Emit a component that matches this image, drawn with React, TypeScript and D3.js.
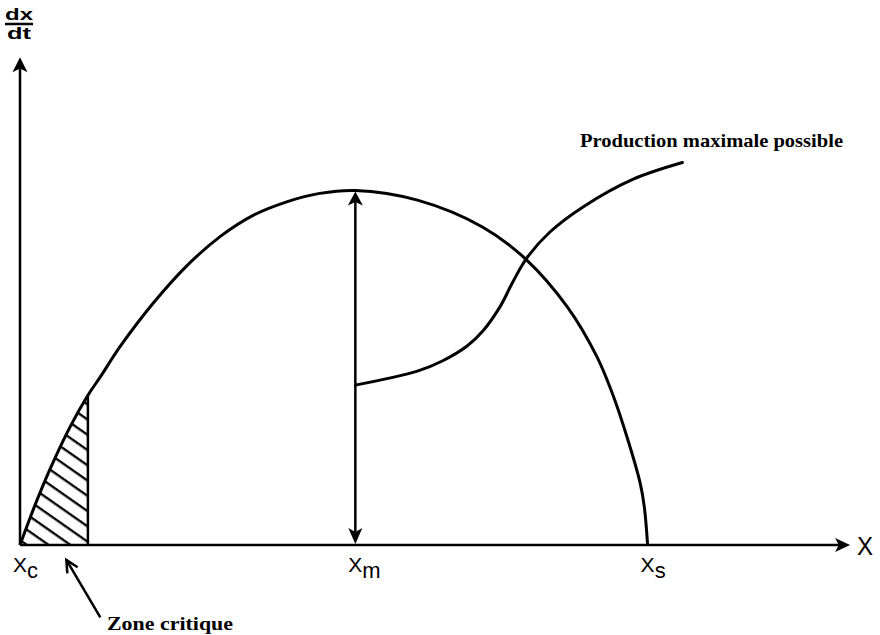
import React from "react";
import * as d3 from "d3";

// Natural growth curve dx/dt as a function of stock X
const growthX = [0, 1.8, 3.6, 6.0, 8.2, 9.7, 12.1, 16.1, 20.2, 24.2, 28.1, 32.3, 36.2, 40.5, 48.0, 55.9, 61.2, 66.1, 69.7, 71.6, 73.3, 74.9, 75.4, 75.8];
const growthY = [0, 8.2, 15.6, 24.3, 31.0, 34.8, 41.1, 50.1, 57.9, 63.9, 68.2, 71.1, 72.8, 73.4, 71.4, 65.8, 59.0, 49.3, 38.9, 31.1, 22.4, 12.8, 7.9, 0];

// "Production maximale possible" curve
const productionX = [40.5, 48.0, 51.0, 54.0, 55.9, 58.0, 59.5, 61.2, 64.0, 68.0, 74.0, 80.0];
const productionY = [33.1, 36.0, 38.1, 41.2, 44.3, 49.4, 54.4, 59.4, 64.8, 70.0, 75.7, 79.2];

// Key stock levels
const stockNames = ["c", "m", "s"];
const stockValues = [0, 40.5, 75.8];
const criticalLimit = 8.2;

const axisTitleY = ["dx", "dt"];
const axisTitleX = "X";
const productionLabel = "Production maximale possible";
const criticalLabel = "Zone critique";

const W = 880;
const H = 635;

function arrowHead(tipX: number, tipY: number, fromX: number, fromY: number, len: number, hw: number, notch = 0.75) {
  const dx = tipX - fromX;
  const dy = tipY - fromY;
  const d = Math.hypot(dx, dy);
  const ux = dx / d, uy = dy / d;
  const nx = -uy, ny = ux;
  const bx = tipX - ux * len, by = tipY - uy * len;
  const mx = tipX - ux * len * notch, my = tipY - uy * len * notch;
  return `M${tipX},${tipY}L${bx + nx * hw},${by + ny * hw}L${mx},${my}L${bx - nx * hw},${by - ny * hw}Z`;
}

export default function App() {
  const x = d3.scaleLinear().domain([0, 100]).range([20, 848]);
  const y = d3.scaleLinear().domain([0, 100]).range([545, 62]);

  const growth = growthX.map((v, i) => [v, growthY[i]] as [number, number]);
  const production = productionX.map((v, i) => [v, productionY[i]] as [number, number]);

  const curve = d3.curveCatmullRom.alpha(0.5);
  const line = d3.line<[number, number]>().x(d => x(d[0])).y(d => y(d[1])).curve(curve);
  const area = d3.area<[number, number]>().x(d => x(d[0])).y0(y(0)).y1(d => y(d[1])).curve(curve);

  const x0 = x(0), y0 = y(0);
  const yTop = y(101);
  const xEnd = x(100.25);
  const xm = x(stockValues[1]);
  const pk = growthX.indexOf(stockValues[1]);
  const peakPx = y(growthY[pk]) + 1;

  const serif = "'Liberation Serif', 'DejaVu Serif', serif";
  const sans = "'Liberation Sans', Arial, Helvetica, sans-serif";

  // zone critique arrow
  const zTipX = x(5.6), zTipY = y(-3.1);
  const zTailX = x(9.7), zTailY = y(-15);

  const areaD = area(growth) || "";

  return (
    <svg width={W} height={H} style={{ position: "absolute", left: 0, top: 0, background: "#fff" }}>
      <defs>
        <pattern id="hatch" patternUnits="userSpaceOnUse" width={12.5} height={12.5} patternTransform="rotate(35)">
          <line x1={0} y1={6} x2={12.5} y2={6} stroke="#000" strokeWidth={2.3} />
        </pattern>
        <clipPath id="underCurve">
          <path d={areaD} />
        </clipPath>
      </defs>
      <rect x={0} y={0} width={W} height={H} fill="#fff" />

      {/* hatched critical zone */}
      <g clipPath="url(#underCurve)">
        <rect x={x0} y={y(100)} width={x(criticalLimit) - x0} height={y0 - y(100)} fill="url(#hatch)" />
        <line x1={x(criticalLimit)} y1={y(100)} x2={x(criticalLimit)} y2={y0} stroke="#000" strokeWidth={2.5} />
      </g>

      {/* axes */}
      <line x1={x0} y1={y0} x2={x0} y2={yTop + 8} stroke="#000" strokeWidth={2.5} />
      <path d={arrowHead(x0, yTop, x0, y0, 15, 7.5)} fill="#000" />
      <line x1={x0} y1={y0} x2={xEnd - 8} y2={y0} stroke="#000" strokeWidth={2.5} />
      <path d={arrowHead(xEnd, y0, x0, y0, 15, 7)} fill="#000" />

      {/* growth curve */}
      <path d={line(growth) || ""} fill="none" stroke="#000" strokeWidth={3} strokeLinejoin="round" />

      {/* double arrow at Xm */}
      <line x1={xm} y1={peakPx + 8} x2={xm} y2={y0 - 9} stroke="#000" strokeWidth={2.5} />
      <path d={arrowHead(xm, peakPx, xm, y0, 14, 7.5)} fill="#000" />
      <path d={arrowHead(xm, y0 - 1, xm, peakPx, 16, 7)} fill="#000" />

      {/* production curve */}
      <path d={line(production) || ""} fill="none" stroke="#000" strokeWidth={3} strokeLinecap="round" />

      {/* axis titles */}
      <text x={19} y={20} fontFamily={sans} fontWeight="bold" fontSize={17} textAnchor="middle" textLength={28} lengthAdjust="spacingAndGlyphs">{axisTitleY[0]}</text>
      <line x1={5} y1={24} x2={33} y2={24} stroke="#000" strokeWidth={2.5} />
      <text x={19} y={39} fontFamily={sans} fontWeight="bold" fontSize={17} textAnchor="middle" textLength={24} lengthAdjust="spacingAndGlyphs">{axisTitleY[1]}</text>
      <text x={xEnd + 7} y={y0 + 10} fontFamily={sans} fontSize={26} textLength={16} lengthAdjust="spacingAndGlyphs">{axisTitleX}</text>

      {/* stock labels */}
      {stockNames.map((s, i) => (
        <text key={s} x={x(stockValues[i]) - 7} y={572} fontFamily={sans} fontSize={21}>
          <tspan>X</tspan>
          <tspan dy={6} fontSize={22}>{s}</tspan>
        </text>
      ))}

      {/* zone critique */}
      <line x1={zTailX} y1={zTailY} x2={zTipX} y2={zTipY} stroke="#000" strokeWidth={2.5} />
      <path
        d={(() => {
          const dx = zTipX - zTailX, dy = zTipY - zTailY;
          const d = Math.hypot(dx, dy);
          const ux = dx / d, uy = dy / d, nx = -uy, ny = ux;
          const bx = zTipX - ux * 12, by = zTipY - uy * 12;
          return `M${bx + nx * 6},${by + ny * 6}L${zTipX},${zTipY}L${bx - nx * 6},${by - ny * 6}`;
        })()}
        fill="none" stroke="#000" strokeWidth={2.5} strokeLinejoin="miter"
      />
      <text x={107} y={630} fontFamily={serif} fontWeight="bold" fontSize={19} textLength={126} lengthAdjust="spacingAndGlyphs">{criticalLabel}</text>

      <text x={580} y={147} fontFamily={serif} fontWeight="bold" fontSize={19.5} textLength={263} lengthAdjust="spacingAndGlyphs">{productionLabel}</text>
    </svg>
  );
}
